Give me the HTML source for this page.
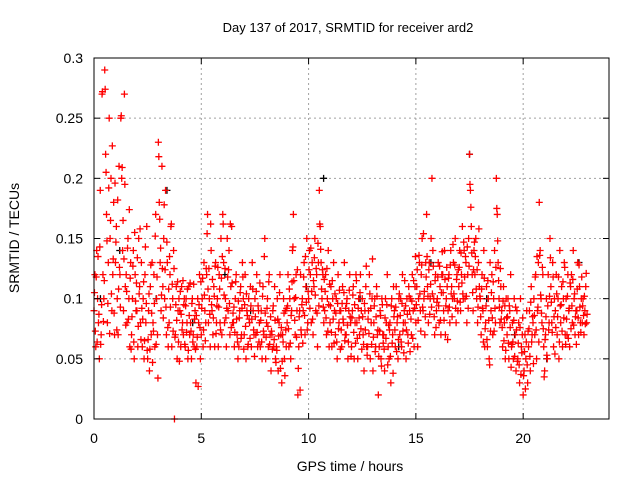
<!DOCTYPE html>
<html><head><meta charset="utf-8"><style>
html,body{margin:0;padding:0;background:#fff;}
svg{display:block;font-family:"Liberation Sans",sans-serif;}
</style></head><body>
<svg id="chart" width="640" height="480" viewBox="0 0 640 480" xmlns="http://www.w3.org/2000/svg">
<rect width="640" height="480" fill="#fff"/>
<text x="348" y="32" font-size="13" text-anchor="middle" fill="#000">Day 137 of 2017, SRMTID for receiver ard2</text>
<g id="grid"></g>
<g id="pts"></g>
<rect x="94" y="58" width="515" height="361" fill="none" stroke="#000" stroke-width="1"/>
<g id="axes"></g>
<text x="350" y="471" font-size="14" text-anchor="middle" fill="#000">GPS time / hours</text>
<text transform="translate(19,238) rotate(-90)" font-size="14" text-anchor="middle" fill="#000">SRMTID / TECUs</text>
</svg>
<script>
const xTicks=[0,5,10,15,20];
const yTicks=[0,0.05,0.1,0.15,0.2,0.25,0.3];
const yTickLabels=["0","0.05","0.1","0.15","0.2","0.25","0.3"];
const binStep=0.25;
const redValues=[
[.09,.12,.06,.14,.1,.08],[.05,.19,.07,.27,.12,.1],[.29,.22,.17,.08,.13,.25],[.15,.2,.09,.12,.18,.07],
[.13,.16,.1,.07,.21,.12],[.25,.2,.14,.09,.27,.11],[.12,.08,.15,.1,.06,.13],[.07,.1,.14,.05,.12,.09],
[.09,.06,.15,.11,.08,.13],[.06,.1,.05,.12,.08,.16],[.05,.09,.04,.11,.07,.13],[.08,.12,.06,.17,.1,.07],
[.23,.18,.13,.09,.21,.11],[.15,.1,.19,.07,.13,.06],[.08,.12,.16,.06,.1,.14],[0,.07,.11,.05,.09,.1],
[.09,.06,.11,.08,.07,.1],[.06,.1,.08,.05,.11,.07],[.08,.05,.1,.07,.06,.09],[.03,.06,.1,.08,.12,.05],
[.07,.1,.06,.13,.09,.08],[.12,.17,.08,.1,.06,.14],[.09,.07,.11,.06,.13,.08],[.1,.06,.12,.08,.15,.07],
[.17,.13,.08,.1,.06,.15],[.09,.14,.07,.11,.16,.08],[.08,.06,.1,.12,.07,.05],[.06,.09,.11,.07,.13,.1],
[.07,.12,.05,.09,.06,.1],[.08,.11,.06,.13,.09,.07],[.1,.07,.12,.06,.09,.08],[.06,.09,.05,.11,.07,.15],
[.05,.08,.1,.06,.12,.07],[.04,.07,.09,.06,.11,.05],[.06,.1,.04,.08,.12,.07],[.03,.07,.1,.05,.09,.06],
[.08,.12,.06,.1,.05,.09],[.14,.17,.1,.07,.12,.09],[.02,.06,.09,.12,.07,.1],[.09,.13,.07,.11,.15,.08],
[.1,.14,.12,.08,.13,.07],[.11,.15,.09,.12,.06,.13],[.19,.16,.13,.1,.12,.08],[.09,.12,.07,.1,.14,.06],
[.08,.11,.06,.1,.13,.09],[.07,.1,.05,.12,.08,.09],[.09,.06,.11,.08,.13,.07],[.07,.1,.05,.09,.12,.08],
[.06,.09,.11,.05,.08,.12],[.08,.05,.1,.07,.12,.09],[.1,.07,.04,.09,.11,.06],[.06,.09,.12,.05,.08,.1],
[.04,.08,.1,.06,.11,.07],[.02,.06,.09,.05,.1,.07],[.07,.04,.1,.08,.12,.06],[.05,.08,.03,.1,.07,.11],
[.09,.06,.11,.08,.05,.1],[.07,.1,.06,.12,.08,.09],[.08,.05,.1,.07,.11,.09],[.1,.07,.12,.09,.06,.11],
[.08,.11,.06,.1,.13,.09],[.12,.15,.09,.1,.07,.13],[.17,.11,.08,.13,.1,.15],[.2,.14,.1,.07,.12,.09],
[.1,.13,.08,.11,.07,.12],[.12,.09,.14,.07,.1,.11],[.09,.12,.08,.14,.11,.1],[.13,.1,.15,.08,.12,.09],
[.11,.14,.09,.12,.16,.1],[.14,.1,.13,.08,.12,.15],[.22,.19,.16,.12,.09,.14],[.12,.15,.1,.08,.13,.11],
[.1,.07,.12,.09,.14,.06],[.08,.11,.06,.1,.05,.13],[.09,.12,.07,.1,.14,.08],[.2,.17,.13,.1,.08,.11],
[.09,.06,.11,.08,.05,.1],[.07,.1,.05,.09,.12,.06],[.08,.05,.1,.07,.04,.09],[.05,.08,.03,.1,.06,.07],
[.02,.04,.07,.05,.09,.03],[.06,.09,.04,.11,.07,.08],[.1,.07,.12,.05,.09,.13],[.18,.14,.1,.08,.12,.06],
[.04,.07,.1,.05,.12,.08],[.15,.11,.08,.13,.06,.1],[.09,.12,.07,.1,.05,.14],[.08,.11,.06,.1,.13,.07],
[.1,.07,.12,.09,.06,.11],[.12,.08,.14,.1,.07,.09],[.09,.13,.07,.11,.08,.1],[.08,.1,.07,.09,.11,.08]
];
const redValues2=[
[.105,.073,.118,.064,.135,.087],[.143,.062,.095,.272,.081,.115],[.274,.205,.148,.096,.192,.071],[.165,.104,.227,.133,.088,.196],
[.147,.074,.182,.108,.126,.093],[.252,.209,.165,.133,.195,.078],[.106,.142,.083,.174,.117,.058],[.085,.127,.064,.155,.098,.113],
[.134,.077,.104,.158,.066,.092],[.083,.114,.065,.143,.096,.057],[.066,.104,.058,.128,.088,.047],[.073,.096,.152,.062,.118,.034],
[.218,.166,.142,.103,.125,.084],[.178,.124,.093,.147,.076,.108],[.135,.093,.162,.112,.073,.125],[.068,.095,.082,.114,.064,.048],
[.106,.087,.074,.115,.095,.062],[.094,.072,.108,.057,.086,.113],[.073,.096,.064,.112,.083,.058],[.086,.068,.027,.095,.076,.114],
[.092,.117,.074,.103,.065,.125],[.154,.108,.125,.087,.162,.095],[.116,.084,.102,.127,.071,.094],[.126,.093,.108,.074,.117,.135],
[.162,.103,.125,.084,.092,.118],[.124,.096,.162,.076,.113,.088],[.093,.072,.114,.083,.064,.098],[.084,.105,.067,.092,.118,.058],
[.095,.077,.104,.086,.062,.083],[.067,.094,.083,.108,.074,.052],[.085,.106,.072,.094,.064,.113],[.082,.064,.102,.073,.135,.088],
[.068,.092,.077,.114,.062,.085],[.073,.058,.094,.066,.082,.047],[.057,.083,.069,.105,.042,.076],[.048,.064,.088,.036,.074,.092],
[.094,.075,.108,.063,.086,.114],[.143,.115,.082,.101,.068,.124],[.042,.085,.024,.074,.095,.063],[.118,.086,.135,.097,.074,.106],
[.124,.092,.142,.106,.083,.115],[.134,.103,.125,.088,.146,.094],[.162,.141,.108,.124,.093,.116],[.106,.084,.125,.073,.095,.112],
[.094,.072,.115,.083,.063,.104],[.088,.064,.096,.075,.107,.058],[.074,.096,.083,.105,.065,.092],[.096,.078,.064,.107,.085,.052],
[.084,.103,.072,.095,.063,.115],[.067,.092,.084,.105,.075,.058],[.085,.062,.096,.074,.127,.053],[.083,.071,.104,.092,.062,.133],
[.068,.094,.056,.085,.102,.074],[.052,.073,.086,.044,.095,.063],[.058,.084,.067,.095,.045,.078],[.074,.052,.094,.063,.038,.085],
[.074,.093,.056,.085,.066,.104],[.086,.064,.096,.073,.055,.115],[.094,.074,.087,.063,.102,.056],[.083,.098,.067,.115,.092,.135],
[.095,.124,.082,.136,.104,.073],[.128,.093,.154,.106,.085,.118],[.135,.102,.124,.087,.112,.093],[.104,.127,.085,.115,.076,.097],
[.118,.094,.127,.082,.105,.139],[.105,.082,.116,.094,.126,.066],[.117,.093,.128,.104,.085,.145],[.104,.128,.092,.116,.098,.124],
[.126,.097,.138,.113,.104,.147],[.118,.135,.102,.143,.092,.127],[.195,.176,.138,.105,.124,.147],[.135,.108,.124,.093,.158,.102],
[.085,.108,.092,.064,.117,.075],[.094,.066,.115,.082,.045,.073],[.105,.084,.114,.073,.092,.126],[.175,.148,.115,.093,.125,.083],
[.076,.098,.065,.094,.057,.084],[.085,.063,.094,.076,.043,.062],[.064,.082,.052,.093,.074,.048],[.063,.045,.076,.037,.055,.084],
[.036,.056,.025,.064,.045,.073],[.075,.052,.097,.064,.085,.046],[.086,.118,.074,.135,.093,.064],[.136,.103,.088,.126,.075,.035],
[.066,.085,.053,.094,.074,.102],[.134,.097,.072,.118,.085,.054],[.076,.104,.085,.118,.064,.094],[.095,.073,.114,.084,.126,.062],
[.083,.102,.067,.092,.113,.075],[.094,.116,.078,.104,.085,.062],[.108,.084,.128,.093,.072,.118],[.094,.086,.102,.079,.121,.087]
];
const blackTimes=[0.3,1.2,2.9,3.4,4.6,6.1,7.3,9.9,10.7,12.4,14.2,15.7,17.5,18.3,19.6,21.1,22.6];
const blackValues=[.1,.14,.1,.19,.08,.12,.09,.11,.2,.1,.06,.13,.22,.1,.07,.05,.13];
const X0=94,X1=609,Y0=419,Y1=58,XMAX=24,YMAX=0.3;
function sx(v){return X0+(X1-X0)*v/XMAX;}
function sy(v){return Y0-(Y0-Y1)*v/YMAX;}
const NS="http://www.w3.org/2000/svg";
const grid=document.getElementById('grid'),axes=document.getElementById('axes'),pts=document.getElementById('pts');
function mk(tag,at,parent){const e=document.createElementNS(NS,tag);for(const k in at)e.setAttribute(k,at[k]);parent.appendChild(e);return e;}
xTicks.forEach(t=>{
 if(t>0){const g=mk('line',{x1:sx(t),x2:sx(t),y1:Y1,y2:Y0,stroke:'#a0a0a0','stroke-dasharray':'2,3'},grid);
 
 }
 mk('line',{x1:sx(t),x2:sx(t),y1:Y0,y2:Y0-6,stroke:'#000'},axes);
 mk('line',{x1:sx(t),x2:sx(t),y1:Y1,y2:Y1+6,stroke:'#000'},axes);
 const l=mk('text',{x:sx(t),y:443,'font-size':14,'text-anchor':'middle',fill:'#000'},axes);l.textContent=t;
 
 
});
yTicks.forEach((t,i)=>{
 if(t>0&&t<YMAX){const g=mk('line',{x1:X0,x2:X1,y1:sy(t),y2:sy(t),stroke:'#a0a0a0','stroke-dasharray':'2,3'},grid);
 
 }
 mk('line',{x1:X0,x2:X0+6,y1:sy(t),y2:sy(t),stroke:'#000'},axes);
 mk('line',{x1:X1,x2:X1-6,y1:sy(t),y2:sy(t),stroke:'#000'},axes);
 const l=mk('text',{x:83,y:sy(t)+5,'font-size':14,'text-anchor':'end',fill:'#000'},axes);l.textContent=yTickLabels[i];
 
 
});
function plus(x,y,c,name){
 const p=mk('path',{d:`M${x-3.5},${y}h7M${x},${y-3.5}v7`,stroke:c,'stroke-width':1.3,fill:'none'},pts);
 
 
}
blackTimes.forEach((t,i)=>plus(sx(t),sy(blackValues[i]),'#000','black-point'));
redValues.forEach((row,i)=>row.forEach((v,j)=>{
 plus(sx(i*binStep+j*binStep/row.length),sy(v),'#f00','red-point');
}));
redValues2.forEach((row,i)=>row.forEach((v,j)=>{
 plus(sx(i*binStep+(j+0.5)*binStep/row.length),sy(v),'#f00','red-point');
}));
</script>
</body></html>
